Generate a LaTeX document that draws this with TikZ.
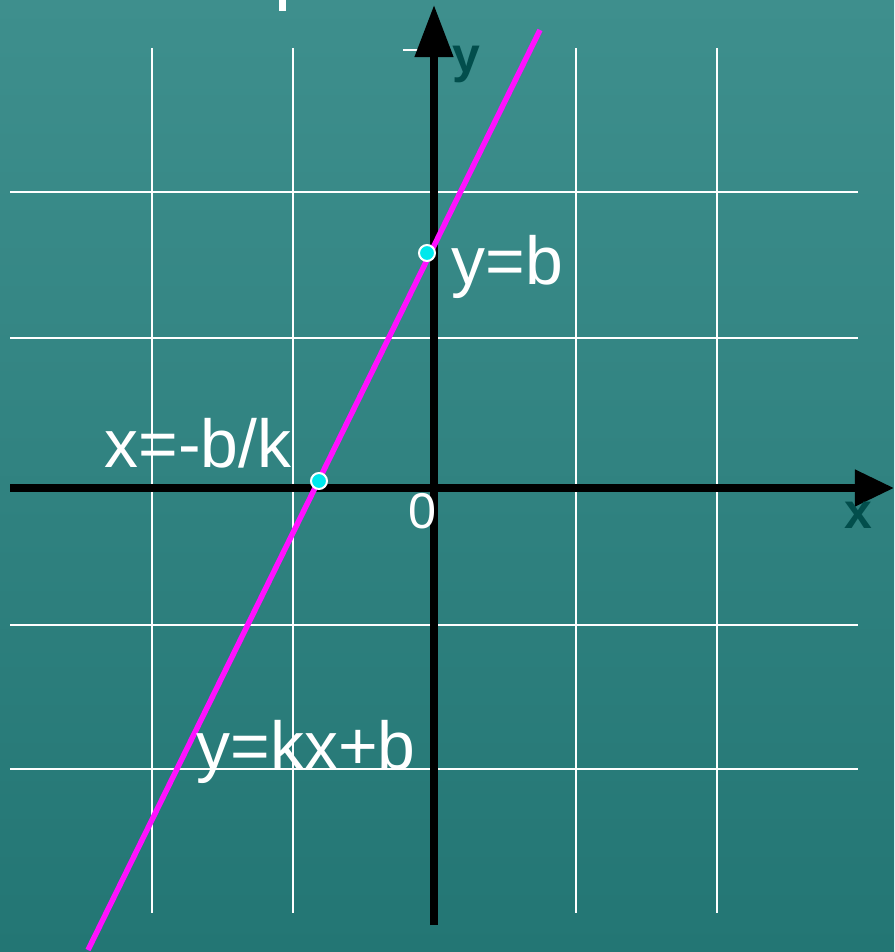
\documentclass[tikz,border=0pt]{standalone}
\usepackage{fontspec}
\setmainfont{Liberation Sans}
\usetikzlibrary{arrows.meta}
\definecolor{bgtop}{HTML}{3E8F8D}
\definecolor{bgbot}{HTML}{237674}
\definecolor{axlabel}{HTML}{024E4C}
\definecolor{linemag}{HTML}{FF10FF}
\definecolor{dotcyan}{HTML}{00E8EC}
\tikzset{
  gridline/.style={white, line width=0.025cm},
  axisline/.style={black, line width=0.075cm},
  graphline/.style={linemag, line width=0.055cm},
  dotmark/.style={circle, fill=dotcyan, draw=white, line width=0.02cm, minimum size=0.16cm, inner sep=0pt},
  lbl/.style={white, inner sep=0pt, anchor=base west, font=\fontsize{19.3pt}{21pt}\selectfont},
  zlbl/.style={white, inner sep=0pt, anchor=base west, font=\fontsize{14.3pt}{16pt}\selectfont},
  axlbl/.style={axlabel, inner sep=0pt, anchor=base west, font=\bfseries\fontsize{14.2pt}{16pt}\selectfont},
}
\begin{document}
\begin{tikzpicture}[x=0.01cm, y=-0.01cm]
\useasboundingbox (0,0) rectangle (894,952);
\shade[top color=bgtop, bottom color=bgbot] (0,0) rectangle (894,952);
% grid
\foreach \gx in {152,293,576,717} \draw[gridline] (\gx,48) -- (\gx,913);
\foreach \gy in {192,338,625,769} \draw[gridline] (10,\gy) -- (858,\gy);
% small white marks
\draw[white, line width=0.07cm] (282,0) -- (282,11);
\draw[white, line width=0.02cm] (403,50) -- (433,50);
% axes
\coordinate (xs) at (10,488);
\coordinate (xe) at (894,488);
\coordinate (ys) at (434,925);
\coordinate (ye) at (434,5);
\draw[axisline, -{Triangle[length=0.39cm, width=0.35cm]}] (xs) -- (xe);
\draw[axisline, -{Triangle[length=0.52cm, width=0.37cm]}] (ys) -- (ye);
% graph line
\coordinate (ls) at (88,950);
\coordinate (le) at (540,30);
\draw[graphline] (ls) -- (le);
% intercepts
\node[dotmark] (yb) at (427,253) {};
\node[dotmark] (xb) at (319,481) {};
% labels
\node[axlbl] (ylab) at (452,73) {y};
\node[axlbl] (xlab) at (844,528) {x};
\node[lbl] (lyb) at (451,285) {y=b};
\node[lbl] (lxb) at (104,467) {x=-b/k};
\node[lbl] (lkx) at (196,769) {y=kx+b};
\node[zlbl] (lzero) at (408,528) {0};
\end{tikzpicture}
\end{document}
